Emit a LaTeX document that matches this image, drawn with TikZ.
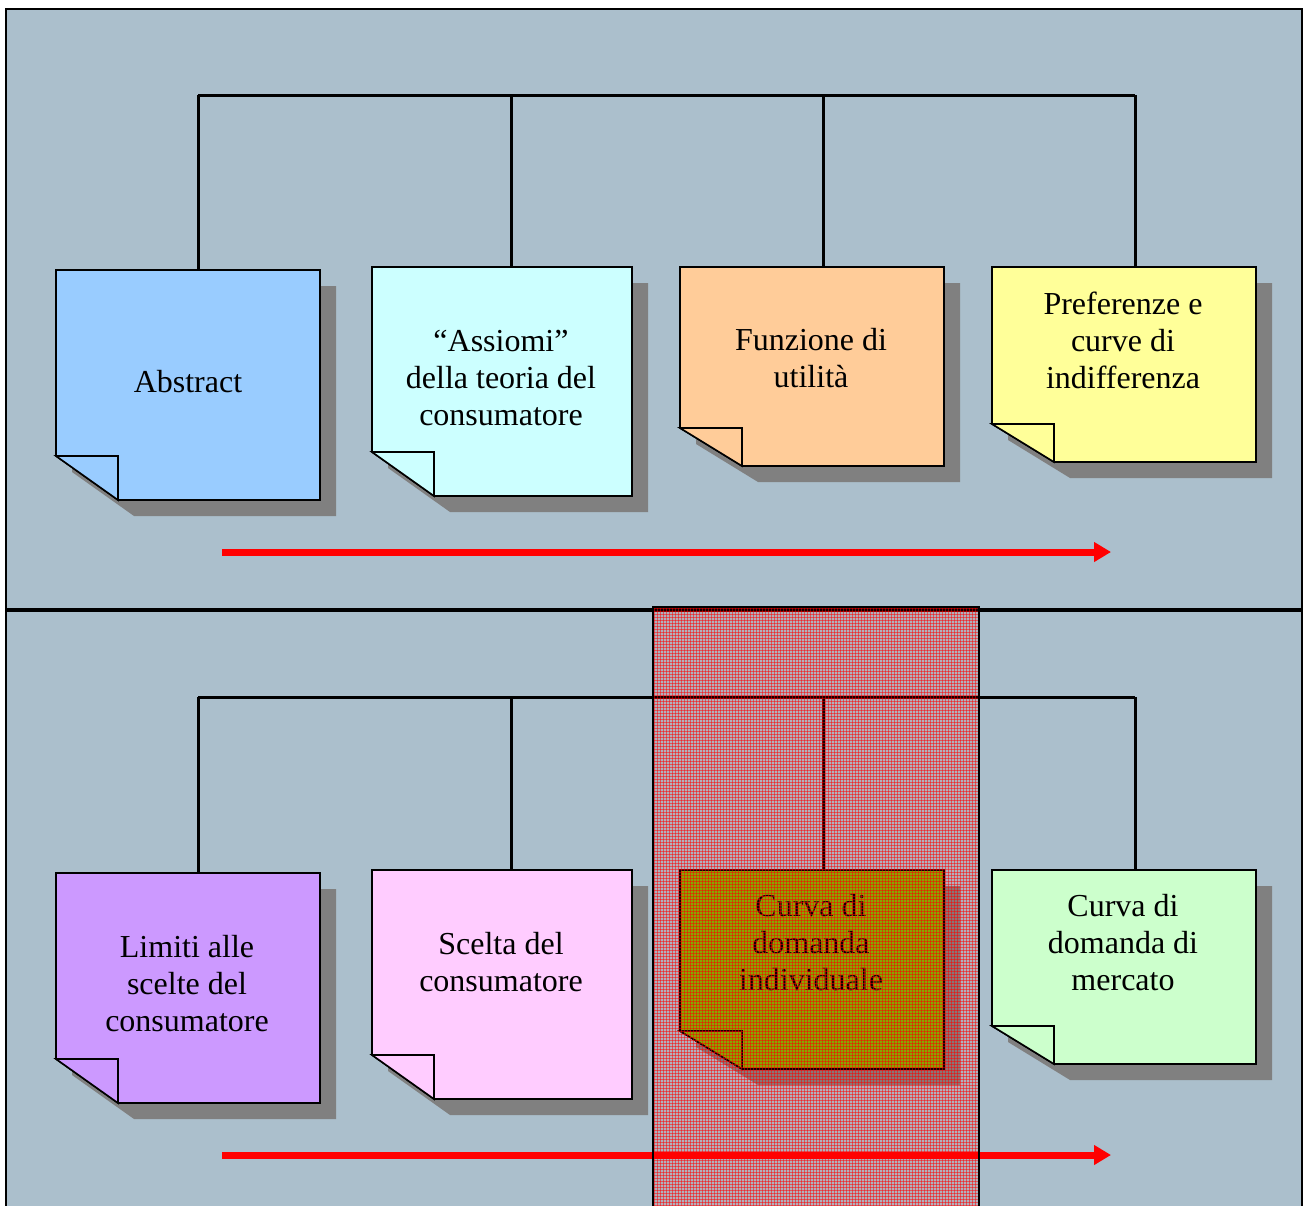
\documentclass[tikz,border=0pt]{standalone}
\usepackage{fontspec}
\setmainfont{Liberation Serif}
\usetikzlibrary{patterns,arrows.meta}
\definecolor{panelbg}{HTML}{ABBFCC}
\definecolor{notesh}{HTML}{808080}
\definecolor{cA}{HTML}{99CCFF}
\definecolor{cB}{HTML}{CCFFFF}
\definecolor{cC}{HTML}{FFCC99}
\definecolor{cD}{HTML}{FFFF99}
\definecolor{cE}{HTML}{CC99FF}
\definecolor{cF}{HTML}{FFCCFF}
\definecolor{cG}{HTML}{80B400}
\definecolor{cH}{HTML}{CCFFCC}
\tikzset{
  panel/.style={fill=panelbg, draw=black, line width=2.5pt},
  notebd/.style={draw=black, line width=1.6pt, line join=miter},
  bus/.style={draw=black, line width=3pt},
  flowarrow/.style={draw=red, line width=7pt, -{Triangle[length=17pt,width=19pt]}},
  notetext/.style={align=center, font=\fontsize{32}{37}\selectfont, inner sep=0pt}
}
% #1 x1, #2 y1, #3 x2, #4 y2, #5 colour, #6 fold height
\newcommand{\stickynote}[6]{%
  \begin{scope}[shift={(16,16)}]
    \fill[notesh] (#1,#2) -- (#3,#2) -- (#3,#4) -- (#1+62,#4) -- (#1,#4-#6) -- cycle;
  \end{scope}
  \filldraw[fill=#5, notebd] (#1,#2) -- (#3,#2) -- (#3,#4) -- (#1+62,#4) -- (#1,#4-#6) -- cycle;
  \filldraw[fill=#5, notebd] (#1,#4-#6) -- (#1+62,#4-#6) -- (#1+62,#4) -- cycle;
}
\begin{document}
\begin{tikzpicture}[x=1pt,y=-1pt]
\useasboundingbox (0,0) rectangle (1305,1205);
\fill[white] (0,0) rectangle (1305,1205);
\begin{scope}
\clip (0,0) rectangle (1305,1205);
\draw[panel] (6,9) rectangle (1302,609);
\draw[panel] (6,611) rectangle (1302,1230);

% notes, top row
\stickynote{56}{270}{320}{500}{cA}{44}
\stickynote{372}{267}{632}{496}{cB}{44}
\stickynote{680}{267}{944}{466}{cC}{38}
\stickynote{992}{267}{1256}{462}{cD}{38}
% notes, bottom row
\stickynote{56}{873}{320}{1103}{cE}{44}
\stickynote{372}{870}{632}{1099}{cF}{44}
\stickynote{680}{870}{944}{1069}{cG}{38}
\stickynote{992}{870}{1256}{1064}{cH}{38}

\node[notetext] (n1) at (188,382) {Abstract};
\node[notetext] (n2) at (501,378) {“Assiomi”\\della teoria del\\consumatore};
\node[notetext] (n3) at (811,358) {Funzione di\\utilità};
\node[notetext] (n4) at (1123,340) {Preferenze e\\curve di\\indifferenza};
\node[notetext] (n5) at (187,984) {Limiti alle\\scelte del\\consumatore};
\node[notetext] (n6) at (501,962) {Scelta del\\consumatore};
\node[notetext] (n7) at (811,943) {Curva di\\domanda\\individuale};
\node[notetext] (n8) at (1123,943) {Curva di\\domanda di\\mercato};

% top tree
\coordinate (ta) at (198,95);
\coordinate (tb) at (511,95);
\coordinate (tc) at (823,95);
\coordinate (td) at (1135,95);
\coordinate (t1) at (198,270);
\coordinate (t2) at (511,267);
\coordinate (t3) at (823,267);
\coordinate (t4) at (1135,267);
\draw[bus] (ta) -- (td);
\draw[bus] (ta) -- (t1);
\draw[bus] (tb) -- (t2);
\draw[bus] (tc) -- (t3);
\draw[bus] (td) -- (t4);
% bottom tree
\coordinate (ba) at (198,697);
\coordinate (bb) at (511,697);
\coordinate (bc) at (823,697);
\coordinate (bd) at (1135,697);
\coordinate (b1) at (198,873);
\coordinate (b2) at (511,870);
\coordinate (b3) at (823,870);
\coordinate (b4) at (1135,870);
\draw[bus] (ba) -- (bd);
\draw[bus] (ba) -- (b1);
\draw[bus] (bb) -- (b2);
\draw[bus] (bc) -- (b3);
\draw[bus] (bd) -- (b4);

% flow arrows
\coordinate (a1s) at (222,552);
\coordinate (a1e) at (1111,552);
\coordinate (a2s) at (222,1155);
\coordinate (a2e) at (1111,1155);
\draw[flowarrow] (a1s) -- (a1e);
\draw[flowarrow] (a2s) -- (a2e);

% highlight band
\fill[red, fill opacity=0.08] (653,607) rectangle (979,1230);
\fill[pattern=grid, pattern color=red, opacity=0.5] (653,607) rectangle (979,1230);
\draw[black, line width=2pt] (653,607) rectangle (979,1230);
\end{scope}
\end{tikzpicture}
\end{document}
